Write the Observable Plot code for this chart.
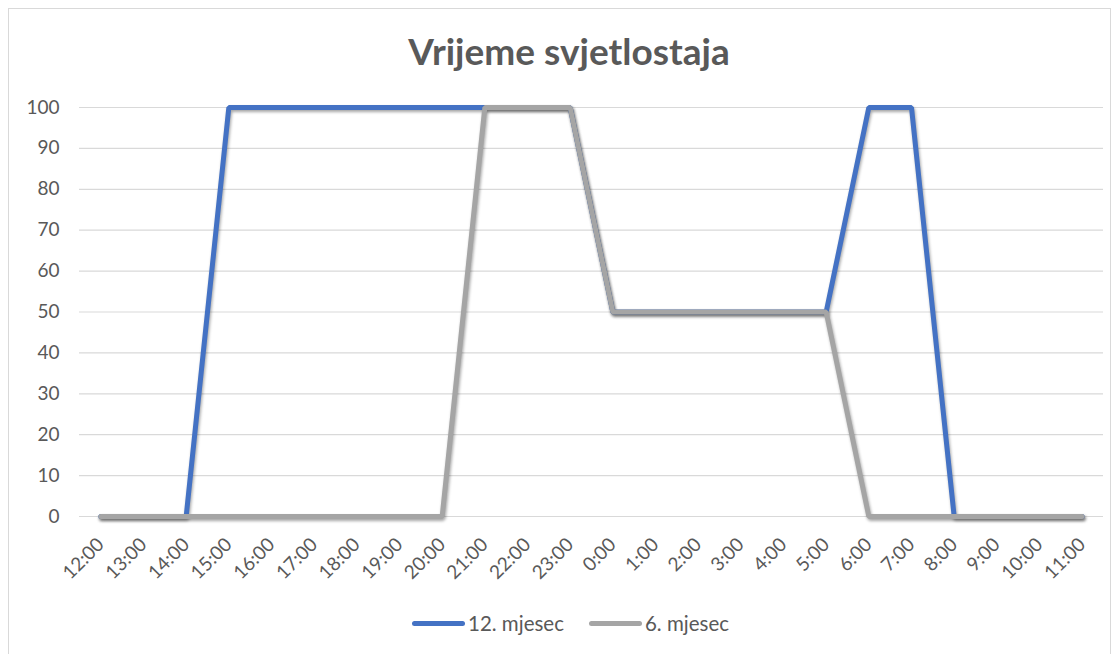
<!DOCTYPE html>
<html>
<head>
<meta charset="utf-8">
<script src="https://cdn.jsdelivr.net/npm/d3@7"></script>
<script src="https://cdn.jsdelivr.net/npm/@observablehq/plot@0.6"></script>
<style>
  html, body { margin: 0; padding: 0; background: #fff; }
  #wrap { position: relative; width: 1119px; height: 654px; overflow: hidden; font-family: Lato, "Liberation Sans", sans-serif; }
  #frame { position: absolute; left: 8px; top: 8px; width: 1103px; height: 680px; border: 1px solid #d9d9d9; box-sizing: border-box; }
  #title { position: absolute; left: 0; width: 1138px; top: 29px; text-align: center; font-size: 37px; font-weight: bold; color: #595959; line-height: 44px; }
  #chart { position: absolute; left: 0; top: 80px; }
  #legend { position: absolute; top: 611px; left: 412px; display: flex; align-items: center; font-size: 20.5px; color: #595959; }
  .sw { display: inline-block; width: 53px; height: 5px; border-radius: 3px; margin-right: 3px; }
  .item { display: flex; align-items: center; margin-right: 25px; }
  #chart g[aria-label="line"] path { filter: drop-shadow(1px 2px 1.5px rgba(0,0,0,0.35)); }
</style>
</head>
<body>
<div id="wrap">
  <div id="frame"></div>
  <div id="title">Vrijeme svjetlostaja</div>
  <div id="chart"></div>
  <div id="legend"></div>
</div>
<script>
const hours = ["12:00","13:00","14:00","15:00","16:00","17:00","18:00","19:00","20:00","21:00","22:00","23:00","0:00","1:00","2:00","3:00","4:00","5:00","6:00","7:00","8:00","9:00","10:00","11:00"];
const series12 = [0,0,0,100,100,100,100,100,100,100,100,100,50,50,50,50,50,50,100,100,0,0,0,0];
const series6  = [0,0,0,0,0,0,0,0,0,100,100,100,50,50,50,50,50,50,0,0,0,0,0,0];
const seriesNames = ["12. mjesec","6. mjesec"];
const seriesColors = ["#4472C4","#A5A5A5"];
const yTicks = [0,10,20,30,40,50,60,70,80,90,100];

const data = [];
hours.forEach((h,i) => data.push({hour:h, value:series12[i], series:seriesNames[0]}));
hours.forEach((h,i) => data.push({hour:h, value:series6[i], series:seriesNames[1]}));

const chart = Plot.plot({
  width: 1119,
  height: 520,
  marginLeft: 79,
  marginRight: 16,
  marginTop: 27,
  marginBottom: 84,
  style: {fontFamily: 'Lato, "Liberation Sans", sans-serif', fontSize: "19px", color: "#595959", background: "transparent"},
  x: {type: "point", domain: hours, padding: 0.5, round: false, label: null},
  y: {domain: [0,100], label: null},
  color: {domain: seriesNames, range: seriesColors},
  marks: [
    Plot.gridY(yTicks, {stroke: "#d9d9d9", strokeOpacity: 1, strokeWidth: 1.2}),
    Plot.axisY({ticks: yTicks, tickSize: 0, tickPadding: 20, label: null}),
    Plot.axisX({tickSize: 0, tickPadding: 25, tickRotate: -45, label: null}),
    Plot.line(data, {x: "hour", y: "value", z: "series", stroke: "series", strokeWidth: 5, strokeLinejoin: "miter", strokeLinecap: "round"})
  ]
});
document.getElementById("chart").appendChild(chart);

const legend = document.getElementById("legend");
seriesNames.forEach((n,i) => {
  const it = document.createElement("div");
  it.className = "item";
  const sw = document.createElement("span");
  sw.className = "sw";
  sw.style.background = seriesColors[i];
  it.appendChild(sw);
  const t = document.createElement("span");
  t.textContent = n;
  it.appendChild(t);
  legend.appendChild(it);
});
</script>
</body>
</html>
